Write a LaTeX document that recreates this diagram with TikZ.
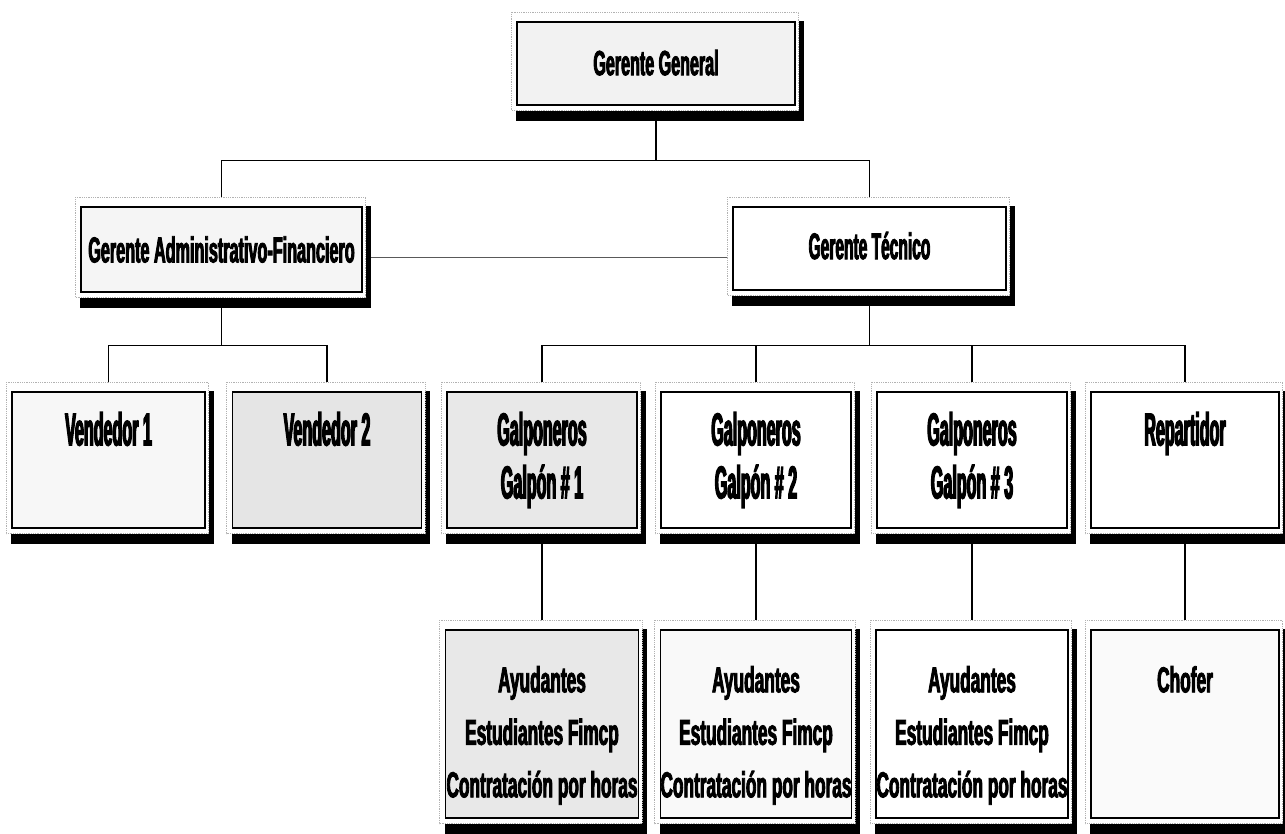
\documentclass[tikz,border=0pt]{standalone}
\usepackage{fontspec}
\newfontfamily\fGG{Liberation Sans}[FakeStretch=0.46, BoldFeatures={FakeBold=2.4}]
\newfontfamily\fGAF{Liberation Sans}[FakeStretch=0.45, BoldFeatures={FakeBold=2.4}]
\newfontfamily\fGT{Liberation Sans}[FakeStretch=0.42, BoldFeatures={FakeBold=2.4}]
\newfontfamily\fRowC{Liberation Sans}[FakeStretch=0.35, BoldFeatures={FakeBold=2.6}]
\newfontfamily\fRowD{Liberation Sans}[FakeStretch=0.48, BoldFeatures={FakeBold=2.4}]
\usetikzlibrary{backgrounds,calc}
\pgfdeclarelayer{conn}
\pgfsetlayers{conn,background,main}
\tikzset{
  orgbox/.style={draw=black, line width=1.4pt, inner sep=0pt, align=center},
  lvlA/.style={orgbox, font=\fGG\bfseries\fontsize{35}{40}\selectfont},
  lvlB/.style={orgbox, font=\fGAF\bfseries\fontsize{36}{40}\selectfont},
  lvlBt/.style={orgbox, font=\fGT\bfseries\fontsize{37}{40}\selectfont},
  lvlC/.style={orgbox, minimum height=136pt, font=\fRowC\bfseries\fontsize{46}{53}\selectfont},
  lvlD/.style={orgbox, minimum height=188pt, font=\fRowD\bfseries\fontsize{36}{52.5}\selectfont},
  link/.style={line width=1.5pt, black},
  peer/.style={line width=0.7pt, gray!70!black},
  frame/.style={fill=white, draw=gray!60, line width=0.8pt, densely dotted},
}
\newcommand\boxdecor[1]{%
  \begin{scope}[on background layer]
    \fill[black] (#1.north west) rectangle ([xshift=8pt,yshift=-15pt]#1.south east);
    \filldraw[frame] ([xshift=-5pt,yshift=9pt]#1.north west) rectangle ([xshift=3pt,yshift=-5pt]#1.south east);
  \end{scope}}
\newcommand\dpstrut[1]{\rule[-#1]{0pt}{#1}}
\newcommand\htstrut{\rule{0pt}{49pt}}
\begin{document}
\begin{tikzpicture}[x=1pt,y=-1pt]
\useasboundingbox (0,0) rectangle (1285,834);
% level 1
\node[lvlA, fill=gray!10, minimum width=278pt, minimum height=83pt] (GG) at (656,63.5) {Gerente General\dpstrut{2pt}};
\boxdecor{GG}
% level 2
\node[lvlB, fill=gray!8, minimum width=281pt, minimum height=85pt] (GAF) at (221.5,249.5) {Gerente Administrativo-Financiero};
\boxdecor{GAF}
\node[lvlBt, fill=white, minimum width=273pt, minimum height=83pt] (GT) at (869.5,248.5) {Gerente Técnico\dpstrut{6pt}};
\boxdecor{GT}
% level 3
\node[lvlC, fill=gray!6, minimum width=193pt] (V1) at (108.5,460) {Vendedor 1\\\phantom{Gp}};
\boxdecor{V1}
\node[lvlC, fill=gray!20, minimum width=189pt] (V2) at (327,460) {Vendedor 2\\\phantom{Gp}};
\boxdecor{V2}
\node[lvlC, fill=gray!18, minimum width=190pt] (G1) at (542,460) {Galponeros\\Galpón \# 1};
\boxdecor{G1}
\node[lvlC, fill=white, minimum width=190pt] (G2) at (756,460) {Galponeros\\Galpón \# 2};
\boxdecor{G2}
\node[lvlC, fill=white, minimum width=190pt] (G3) at (972,460) {Galponeros\\Galpón \# 3};
\boxdecor{G3}
\node[lvlC, fill=white, minimum width=188pt] (Rep) at (1185,460) {Repartidor\\\phantom{Gp}};
\boxdecor{Rep}
% level 4
\node[lvlD, fill=gray!18, minimum width=193pt] (A1) at (542,724) {\htstrut Ayudantes\\Estudiantes Fimcp\\Contratación por horas};
\boxdecor{A1}
\node[lvlD, fill=gray!5, minimum width=190pt] (A2) at (756,724) {\htstrut Ayudantes\\Estudiantes Fimcp\\Contratación por horas};
\boxdecor{A2}
\node[lvlD, fill=white, minimum width=192pt] (A3) at (972,724) {\htstrut Ayudantes\\Estudiantes Fimcp\\Contratación por horas};
\boxdecor{A3}
\node[lvlD, fill=gray!4, minimum width=188pt] (Ch) at (1185,724) {\htstrut Chofer\\\phantom{Gp}\\\phantom{Gp}};
\boxdecor{Ch}
% junctions
\path (GG.south) ++(0,55) coordinate (j0);
\path (GAF.south) ++(0,53) coordinate (j1);
\path (GT.south) ++(0,55) coordinate (j2);
% connectors
\begin{pgfonlayer}{conn}
\draw[link] (GG.south) -- (j0);
\draw[link] (GAF.north) |- (j0) -| (GT.north);
\draw[peer] ([yshift=-7.5pt]GAF.east) -- ([yshift=-8.5pt]GT.west);
\draw[link] (GAF.south) -- (j1);
\draw[link] (V1.north) |- (j1) -| (V2.north);
\draw[link] (GT.south) -- (j2);
\draw[link] (G1.north) |- (j2) -| (Rep.north);
\draw[link] (G2.north) -- (G2.north |- j2);
\draw[link] (G3.north) -- (G3.north |- j2);
\draw[link] (G1.south) -- (A1.north);
\draw[link] (G2.south) -- (A2.north);
\draw[link] (G3.south) -- (A3.north);
\draw[link] (Rep.south) -- (Ch.north);
\end{pgfonlayer}
\end{tikzpicture}
\end{document}
